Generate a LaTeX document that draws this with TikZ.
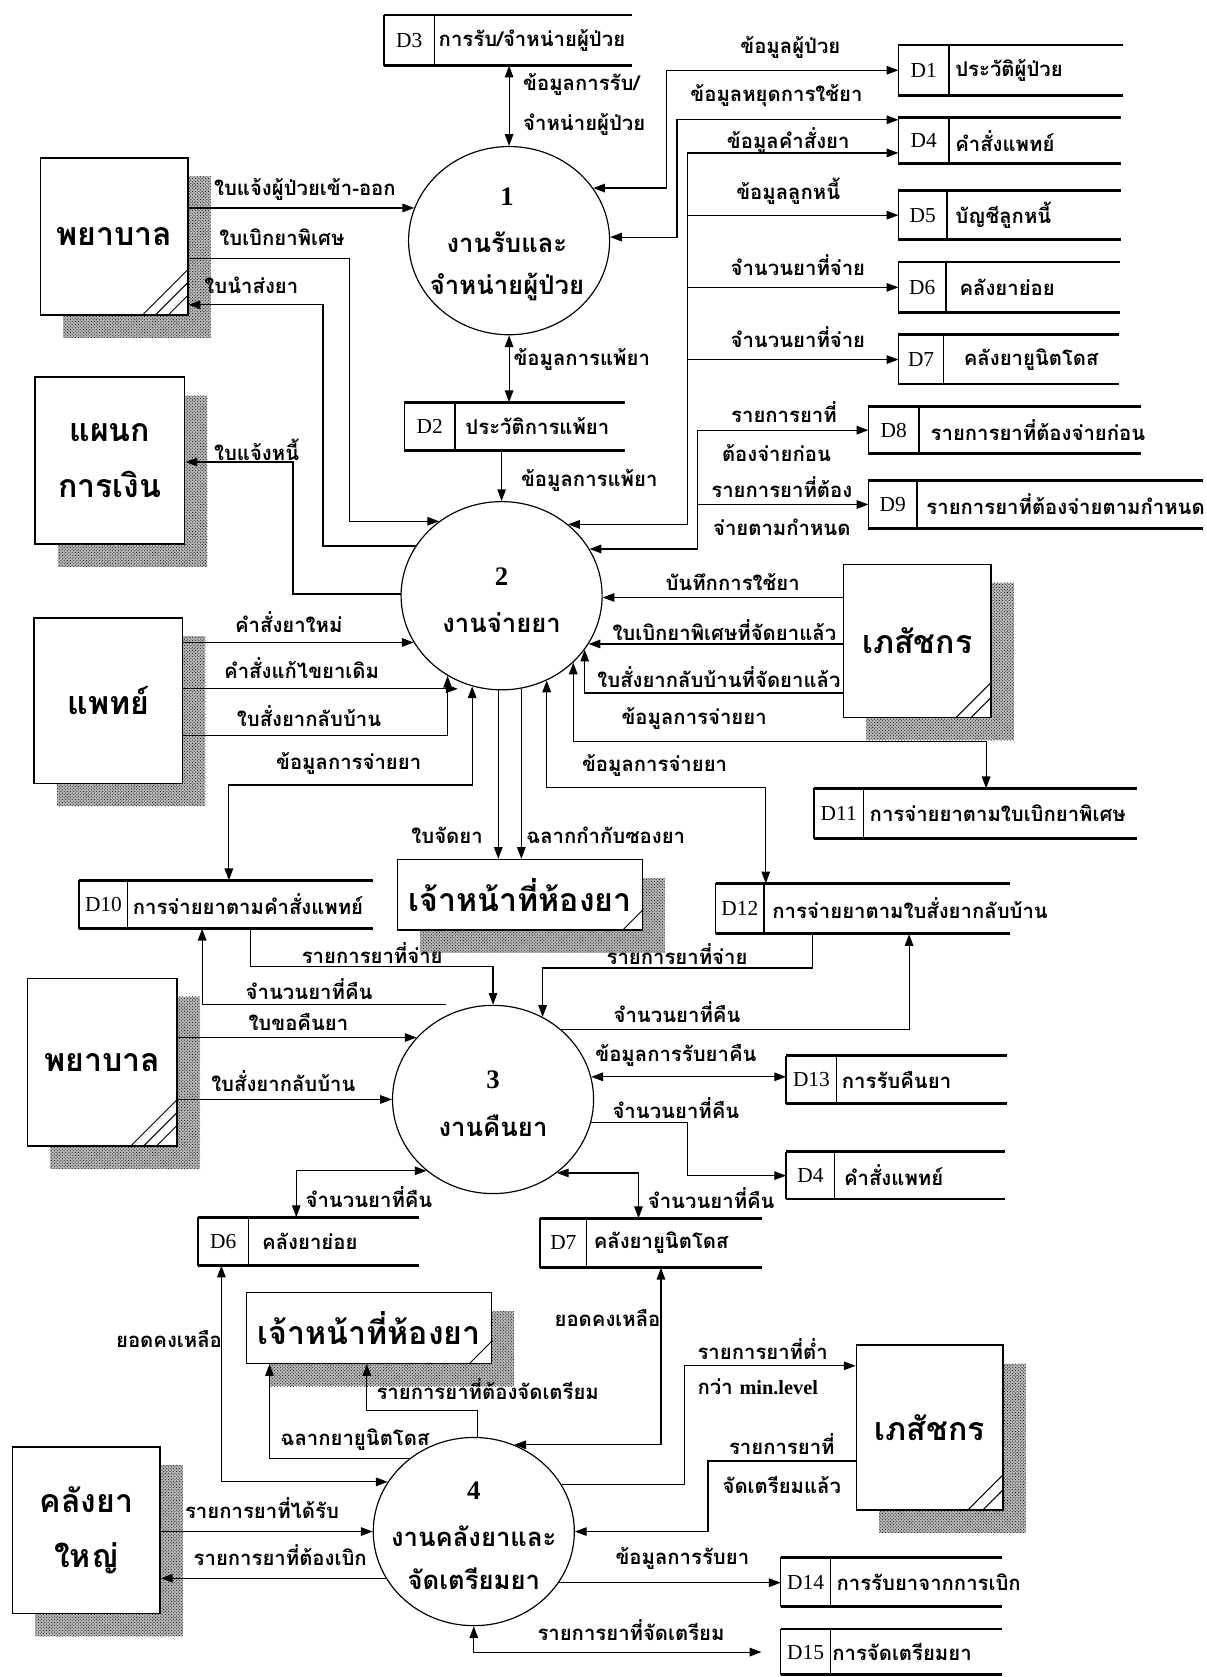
\documentclass[tikz,border=0pt]{standalone}
\usepackage{fontspec}
\setmainfont{Liberation Serif}
\newfontfamily\thaifont[Script=Thai]{Loma}
\usetikzlibrary{arrows.meta,shapes.geometric,patterns}

\tikzset{
  lab/.style={font=\thaifont\bfseries\fontsize{19}{22}\selectfont, inner sep=0pt},
  entbox/.style={draw, line width=1.4pt, fill=white, align=center, inner sep=0pt,
    font=\thaifont\bfseries\fontsize{30}{52}\selectfont},
  proc/.style={ellipse, draw, line width=1.1pt, minimum width=188pt, minimum height=176pt, inner sep=0pt},
  plab/.style={font=\thaifont\bfseries\fontsize{24}{26}\selectfont, inner sep=0pt},
  pnum/.style={font=\bfseries\fontsize{25}{27}\selectfont, inner sep=0pt},
  cell/.style={inner sep=0pt, font=\fontsize{20}{22}\selectfont},
  flow/.style={line width=1.1pt},
  shade/.style={fill=black!28, postaction={pattern=crosshatch dots}},
}

% external entity: name, left, top, right, bottom, text
\newcommand\ent[6]{%
  \fill[shade] (#2+22,#3+18) rectangle (#4+22,#5+22);
  \node[entbox, anchor=north west, minimum width={#4-#2}, minimum height={#5-#3}] (#1) at (#2,#3) {#6};
}
% diagonal strokes in the lower right corner of an entity
\newcommand\hatch[2]{\foreach \d in {#2}{\draw[line width=0.9pt] ([xshift=-\d]#1.south east) -- ([yshift=\d]#1.south east);}}
% data store: name, left, top, bottom, divider, right end, id, label, label x
\newcommand\dstore[9]{%
  \node[cell, anchor=north west, minimum width={#5-#2}, minimum height={#4-#3}] (#1) at (#2,#3) {#7};
  \draw[line width=1.3pt] (#1.north west) -- (#1.south west) (#1.north east) -- (#1.south east);
  \draw[line width=2.6pt] (#2,#3) -- (#6,#3) (#2,#4) -- (#6,#4);
  \node[lab, anchor=west] (#1t) at (#9,{(#3+#4)/2}) {#8};
}

\begin{document}
\begin{tikzpicture}[x=1pt, y=-1pt, >={Triangle[length=11pt,width=8pt]}]
\useasboundingbox (0,0) rectangle (1128,1568);

% ---------- external entities ----------
\ent{nurA}{37}{147}{175}{294}{พยาบาล}
\ent{fin}{32}{352}{172}{508}{แผนก\\การเงิน}
\ent{doc}{31}{577}{170}{732}{แพทย์}
\ent{phA}{788}{527}{926}{670}{เภสัชกร}
\ent{stA}{371}{803}{600}{869}{เจ้าหน้าที่ห้องยา}
\ent{nurB}{25}{914}{165}{1071}{พยาบาล}
\ent{stB}{230}{1208}{459}{1274}{เจ้าหน้าที่ห้องยา}
\ent{phB}{800}{1257}{937}{1411}{เภสัชกร}
\ent{wh}{11}{1352}{149}{1508}{คลังยา\\ใหญ่}
\hatch{nurA}{44,32,20}
\hatch{phA}{34,20}
\hatch{stA}{20}
\hatch{nurB}{45,33,21}
\hatch{stB}{22}
\hatch{phB}{34,20}

% ---------- processes ----------
\node[proc] (p1) at (476,225) {};
\node[proc] (p2) at (469,557) {};
\node[proc] (p3) at (461,1028) {};
\node[proc] (p4) at (443,1432) {};
\node[pnum] (p1n) at (474,184) {1};
\node[plab] (p1a) at (474,226) {งานรับและ};
\node[plab] (p1b) at (474,268) {จำหน่ายผู้ป่วย};
\node[pnum] (p2n) at (469,539) {2};
\node[plab] (p2a) at (469,582) {งานจ่ายยา};
\node[pnum] (p3n) at (461,1010) {3};
\node[plab] (p3a) at (461,1053) {งานคืนยา};
\node[pnum] (p4n) at (443,1394) {4};
\node[plab] (p4a) at (443,1436) {งานคลังยาและ};
\node[plab] (p4b) at (443,1476) {จัดเตรียมยา};

% ---------- data stores ----------
\dstore{d3}{359}{14}{61}{406}{591}{D3}{การรับ/จำหน่ายผู้ป่วย}{410}
\dstore{d1}{840}{42}{89}{887}{1050}{D1}{ประวัติผู้ป่วย}{893}
\dstore{d4}{840}{110}{153}{887}{1048}{D4}{คำสั่งแพทย์}{893}
\dstore{d5}{840}{178}{224}{885}{1048}{D5}{บัญชีลูกหนี้}{893}
\dstore{d6}{840}{245}{292}{884}{1047}{D6}{คลังยาย่อย}{897}
\dstore{d7}{840}{313}{359}{882}{1046}{D7}{คลังยายูนิตโดส}{901}
\dstore{d8}{812}{380}{424}{859}{1067}{D8}{รายการยาที่ต้องจ่ายก่อน}{870}
\dstore{d9}{812}{449}{494}{857}{1125}{D9}{รายการยาที่ต้องจ่ายตามกำหนด}{866}
\dstore{d2}{378}{376}{421}{425}{584}{D2}{ประวัติการแพ้ยา}{435}
\dstore{d11}{761}{737}{784}{807}{1063}{D11}{การจ่ายยาตามใบเบิกยาพิเศษ}{813}
\dstore{d10}{74}{823}{868}{119}{349}{D10}{การจ่ายยาตามคำสั่งแพทย์}{124}
\dstore{d12}{669}{826}{873}{714}{944}{D12}{การจ่ายยาตามใบสั่งยากลับบ้าน}{722}
\dstore{d13}{735}{987}{1032}{782}{942}{D13}{การรับคืนยา}{787}
\dstore{d4b}{735}{1077}{1121}{780}{940}{D4}{คำสั่งแพทย์}{789}
\dstore{d6b}{185}{1138}{1183}{232}{392}{D6}{คลังยาย่อย}{245}
\dstore{d7b}{505}{1139}{1185}{548}{712}{D7}{คลังยายูนิตโดส}{555}
\dstore{d14}{730}{1456}{1502}{776}{937}{D14}{การรับยาจากการเบิก}{782}
\dstore{d15}{730}{1523}{1566}{776}{937}{D15}{การจัดเตรียมยา}{778}

% ---------- flows around process 1 ----------
\draw[flow,<->] (p1.north) -- (p1.north |- d3.south);
\draw[flow,->] (nurA.east |- p1.161) -- (p1.161);
\draw[flow,<->] (p1.32) -| (623,0 |- d1.west) -- (d1.west);
\draw[flow,<->] (p1.2) -| (633,112) -- (d4.west |- 0,112);
\draw[flow,<->] (p1.south) -- (p1.south |- d2.north);
\draw[flow,->] (p2.north |- d2.south) -- (p2.north);

% ---------- flows around process 2 ----------
\draw[flow,->] (nurA.east |- 0,242) -| (327,0 |- p2.130) -- (p2.130);
\draw[flow,->] (p2.150) -| (302,285) -- (nurA.east |- 0,285);
\draw[flow,->] (p2.179) -| (274,432) -- (fin.east |- 0,432);
\draw[flow,<->] (p2.47) -| (643,143) -- (d4.west |- 0,143);
\draw[flow,->] (643,0 |- d5.west) -- (d5.west);
\draw[flow,->] (643,0 |- d6.west) -- (d6.west);
\draw[flow,->] (643,0 |- d7.west) -- (d7.west);
\draw[flow,<->] (p2.28) -| (652,0 |- d8.west) -- (d8.west);
\draw[flow,->] (652,0 |- d9.west) -- (d9.west);
\draw[flow,->] (doc.east |- p2.208) -- (p2.208);
\coordinate (k13) at (428,644);
\draw[flow,->] (doc.east |- k13) -- (k13);
\draw[flow,->] (doc.east |- 0,688) -| (p2.236);
\draw[flow,<->] (p2.252) |- (214,734) -- (214,0 |- d10.north);
\draw[flow,->] (p2.268) -- (p2.268 |- stA.north);
\draw[flow,->] (p2.282) -- (p2.282 |- stA.north);
\draw[flow,<->] (p2.298) |- (716,736) -- (716,0 |- d12.north);
\draw[flow,->] (phA.west |- p2.359) -- (p2.359);
\draw[flow,->] (phA.west |- p2.331) -- (p2.331);
\draw[flow,->] (phA.west |- 0,648) -| (p2.327);
\draw[flow,<->] (p2.317) |- (922,693) -- (922,0 |- d11.north);

% ---------- flows around process 3 ----------
\draw[flow,->] (nurB.east |- p3.141) -- (p3.141);
\draw[flow,->] (nurB.east |- p3.west) -- (p3.west);
\draw[flow,->] (234,0 |- d10.south) |- (461,904) -- (p3.north);
\draw[flow,->] (p3.north -| 417,0) -| (189,0 |- d10.south);
\draw[flow,->] (760,0 |- d12.south) |- (p3.59 |- 0,905) -- (p3.59);
\draw[flow,->] (p3.46) -| (850,0 |- d12.south);
\draw[flow,<->] (p3.13) -- (p3.13 -| d13.west);
\draw[flow,->] (p3.347) -| (643,0 |- d4b.west) -- (d4b.west);
\draw[flow,<->] (p3.311) -| (597,0 |- d7b.north);
\draw[flow,<->] (p3.227) -| (277,0 |- d6b.north);

% ---------- flows around process 4 ----------
\draw[flow,<->] (p4.150) -| (207,0 |- d6b.south);
\draw[flow,->] (p4.131) -| (252,0 |- stB.south);
\draw[flow,->] (p4.88) |- (343,1319) -- (343,0 |- stB.south);
\draw[flow,<->] (p4.65) -| (618,0 |- d7b.south);
\draw[flow,->] (p4.28) -| (640,1277) -- (phB.west |- 0,1277);
\draw[flow,->] (phB.west |- 0,1366) -| (662,0 |- p4.east) -- (p4.east);
\draw[flow,->] (wh.east |- p4.west) -- (p4.west);
\draw[flow,->] (p4.208) -- (wh.east |- p4.208);
\draw[flow,->] (p4.329) -- (p4.329 -| d14.west);
\draw[flow,<->] (p4.south) |- ([xshift=-18pt]d15.west);

% ---------- flow labels ----------
\node[lab, anchor=west] (la1) at (489,79) {ข้อมูลการรับ/};
\node[lab, anchor=west] (la2) at (489,116) {จำหน่ายผู้ป่วย};
\node[lab] (la3) at (739,44) {ข้อมูลผู้ป่วย};
\node[lab] (la4) at (726,89) {ข้อมูลหยุดการใช้ยา};
\node[lab] (la5) at (737,131) {ข้อมูลคำสั่งยา};
\node[lab] (la6) at (737,179) {ข้อมูลลูกหนี้};
\node[lab] (la7) at (746,248) {จำนวนยาที่จ่าย};
\node[lab] (la8) at (746,315) {จำนวนยาที่จ่าย};
\node[lab] (la9) at (733,385) {รายการยาที่};
\node[lab] (la10) at (726,424) {ต้องจ่ายก่อน};
\node[lab] (la11) at (731,455) {รายการยาที่ต้อง};
\node[lab] (la12) at (731,493) {จ่ายตามกำหนด};
\node[lab, anchor=west] (la13) at (200,177) {ใบแจ้งผู้ป่วยเข้า-ออก};
\node[lab, anchor=west] (la14) at (205,222) {ใบเบิกยาพิเศษ};
\node[lab, anchor=west] (la15) at (191,267) {ใบนำส่งยา};
\node[lab, anchor=west] (la16) at (480,336) {ข้อมูลการแพ้ยา};
\node[lab, anchor=west] (la17) at (487,449) {ข้อมูลการแพ้ยา};
\node[lab, anchor=west] (la18) at (200,421) {ใบแจ้งหนี้};
\node[lab] (la19) at (270,582) {คำสั่งยาใหม่};
\node[lab] (la20) at (282,625) {คำสั่งแก้ไขยาเดิม};
\node[lab] (la21) at (289,670) {ใบสั่งยากลับบ้าน};
\node[lab] (la22) at (326,714) {ข้อมูลการจ่ายยา};
\node[lab] (la23) at (418,781) {ใบจัดยา};
\node[lab, anchor=west] (la24) at (492,781) {ฉลากกำกับซองยา};
\node[lab] (la25) at (612,716) {ข้อมูลการจ่ายยา};
\node[lab] (la26) at (685,544) {บันทึกการใช้ยา};
\node[lab, anchor=east] (la27) at (782,589) {ใบเบิกยาพิเศษที่จัดยาแล้ว};
\node[lab, anchor=east] (la28) at (786,633) {ใบสั่งยากลับบ้านที่จัดยาแล้ว};
\node[lab] (la29) at (649,672) {ข้อมูลการจ่ายยา};
\node[lab] (la30) at (348,891) {รายการยาที่จ่าย};
\node[lab] (la31) at (289,925) {จำนวนยาที่คืน};
\node[lab] (la32) at (279,956) {ใบขอคืนยา};
\node[lab] (la33) at (265,1011) {ใบสั่งยากลับบ้าน};
\node[lab] (la34) at (345,1119) {จำนวนยาที่คืน};
\node[lab] (la35) at (633,892) {รายการยาที่จ่าย};
\node[lab] (la36) at (633,946) {จำนวนยาที่คืน};
\node[lab] (la37) at (632,987) {ข้อมูลการรับยาคืน};
\node[lab] (la38) at (632,1036) {จำนวนยาที่คืน};
\node[lab] (la39) at (665,1120) {จำนวนยาที่คืน};
\node[lab] (la40) at (158,1252) {ยอดคงเหลือ};
\node[lab] (la41) at (568,1232) {ยอดคงเหลือ};
\node[lab] (la42) at (456,1299) {รายการยาที่ต้องจัดเตรียม};
\node[lab] (la43) at (332,1346) {ฉลากยายูนิตโดส};
\node[lab] (la44) at (245,1410) {รายการยาที่ได้รับ};
\node[lab] (la45) at (262,1454) {รายการยาที่ต้องเบิก};
\node[lab, anchor=west] (la46) at (652,1261) {รายการยาที่ต่ำ};
\node[lab, anchor=west] (la47) at (652,1297) {กว่า {\rmfamily min.level}};
\node[lab] (la48) at (731,1350) {รายการยาที่};
\node[lab] (la49) at (731,1388) {จัดเตรียมแล้ว};
\node[lab] (la50) at (638,1457) {ข้อมูลการรับยา};
\node[lab] (la51) at (590,1524) {รายการยาที่จัดเตรียม};
\end{tikzpicture}
\end{document}
